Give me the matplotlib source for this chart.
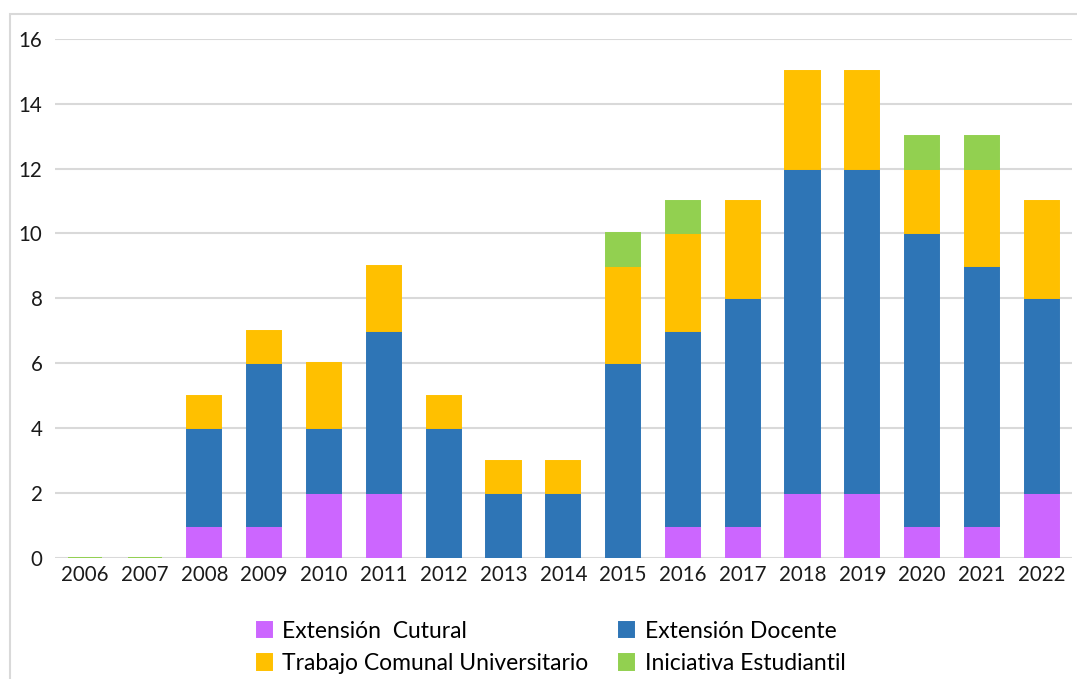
import matplotlib.pyplot as plt
import numpy as np
from matplotlib.patches import Rectangle

plt.rcParams['font.family'] = ['Lato', 'DejaVu Sans']

years = ['2006', '2007', '2008', '2009', '2010', '2011', '2012', '2013', '2014',
         '2015', '2016', '2017', '2018', '2019', '2020', '2021', '2022']
# None = empty cell (not drawn), 0 = zero value (drawn as a thin line)
cultural = [None, None, 1, 1, 2, 2, 0, 0, 0, 0, 1, 1, 2, 2, 1, 1, 2]
docente = [None, None, 3, 5, 2, 5, 4, 2, 2, 6, 6, 7, 10, 10, 9, 8, 6]
tcu = [None, None, 1, 1, 2, 2, 1, 1, 1, 3, 3, 3, 3, 3, 2, 3, 3]
iniciativa = [0, 0, None, None, None, None, None, None, None, 1, 1, None, None, None, 1, 1, None]

series = [
    ('Extensión  Cutural', cultural, '#CC66FF'),
    ('Extensión Docente', docente, '#2E75B6'),
    ('Trabajo Comunal Universitario', tcu, '#FFC000'),
    ('Iniciativa Estudiantil', iniciativa, '#92D050'),
]

fig = plt.figure(figsize=(10.77, 6.79), dpi=100)
ax = fig.add_axes([0.051, 0.178, 0.944, 0.765])

x = np.arange(len(years))
bottom = np.zeros(len(years))
handles = {}
for name, vals, col in series:
    idx = np.array([i for i, v in enumerate(vals) if v is not None])
    h = np.array([vals[i] for i in idx], dtype=float)
    b = ax.bar(x[idx], h, 0.57, bottom=bottom[idx], color=col, edgecolor=col,
               linewidth=1.4, label=name, zorder=3)
    handles[name] = b
    bottom[idx] += h

ax.set_xlim(-0.5, len(years) - 0.5)
ax.set_ylim(0, 16)
ax.set_yticks(range(0, 17, 2))
ax.set_xticks(x)
ax.set_xticklabels(years)
ax.tick_params(length=0, labelsize=14.8, colors='#1a1a1a')
ax.tick_params(axis='y', pad=9)
ax.tick_params(axis='x', pad=5)
ax.grid(axis='y', color='#D9D9D9', linewidth=1.5, zorder=0)
for s in ax.spines.values():
    s.set_visible(False)

order = ['Extensión  Cutural', 'Trabajo Comunal Universitario',
         'Extensión Docente', 'Iniciativa Estudiantil']
fig.legend([handles[n] for n in order], order, ncol=2, frameon=False,
           loc='upper left', bbox_to_anchor=(0.2386, 0.086), fontsize=16.5,
           handlelength=0.65, handleheight=0.65, handletextpad=0.45,
           columnspacing=1.35, labelspacing=0.5, borderaxespad=0, borderpad=0)

# chart border
fig.patches.append(Rectangle((0.009, -0.1), 1.2, 1.079, transform=fig.transFigure,
                             fill=False, edgecolor='#D9D9D9', linewidth=1.5))

fig.savefig('out.png', dpi=100)
